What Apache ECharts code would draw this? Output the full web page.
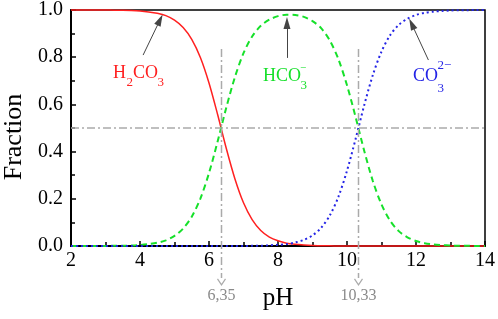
<!DOCTYPE html>
<html>
<head>
<meta charset="utf-8">
<script src="https://cdn.jsdelivr.net/npm/echarts@6/dist/echarts.min.js"></script>
<style>
  html, body { margin: 0; padding: 0; background: #fff; }
  #chart { width: 498px; height: 319px; }
</style>
</head>
<body>
<div id="chart"></div>
<script>
// pH values (x)
var phValues = [2, 2.25, 2.5, 2.75, 3, 3.25, 3.5, 3.75, 4, 4.25, 4.5, 4.75, 5, 5.25, 5.5, 5.75,
  6, 6.25, 6.5, 6.75, 7, 7.25, 7.5, 7.75, 8, 8.25, 8.5, 8.75, 9, 9.25, 9.5, 9.75,
  10, 10.25, 10.5, 10.75, 11, 11.25, 11.5, 11.75, 12, 12.25, 12.5, 12.75, 13, 13.25, 13.5, 13.75, 14];

// fractions
var h2co3 = [1.000, 1.000, 1.000, 1.000, 1.000, 0.999, 0.999, 0.998, 0.996, 0.992, 0.986, 0.976, 0.957, 0.926, 0.876, 0.799,
  0.691, 0.557, 0.414, 0.285, 0.183, 0.112, 0.066, 0.038, 0.022, 0.012, 0.007, 0.004, 0.002, 0.001, 0.001, 0.000,
  0, 0, 0, 0, 0, 0, 0, 0, 0, 0, 0, 0, 0, 0, 0, 0, 0];
var hco3 = [0.000, 0.000, 0.000, 0.000, 0.000, 0.001, 0.001, 0.002, 0.004, 0.008, 0.014, 0.024, 0.043, 0.074, 0.124, 0.201,
  0.309, 0.443, 0.586, 0.715, 0.817, 0.888, 0.933, 0.959, 0.974, 0.980, 0.979, 0.971, 0.953, 0.923, 0.871, 0.792,
  0.681, 0.546, 0.403, 0.275, 0.176, 0.107, 0.063, 0.037, 0.021, 0.012, 0.007, 0.004, 0.002, 0.001, 0.001, 0.000, 0.000];
var co3 = [0, 0, 0, 0, 0, 0, 0, 0, 0, 0, 0, 0, 0, 0, 0, 0,
  0, 0, 0, 0, 0, 0.001, 0.001, 0.003, 0.005, 0.008, 0.015, 0.026, 0.045, 0.077, 0.129, 0.208,
  0.319, 0.454, 0.597, 0.725, 0.824, 0.893, 0.937, 0.963, 0.979, 0.988, 0.993, 0.996, 0.998, 0.999, 0.999, 1.000, 1.000];

// pKa markers and their labels
var pkaValues = [6.35, 10.33];
var pkaLabels = ['6,35', '10,33'];
var pkaTop = 0.835;      // where the dash-dot marker starts
var pkaBottom = -0.165;  // tip of the marker below the axis

// annotation arrows [x0, y0, x1, y1] (start -> tip)
var arrowH2co3 = [4.09, 0.809, 4.58, 0.958];
var arrowHco3 = [8.26, 0.797, 8.26, 0.945];
var arrowCo3 = [12.36, 0.788, 11.875, 0.941];

var serif = '"Liberation Serif", "DejaVu Serif", serif';

function pairs(ys) {
  return phValues.map(function (x, i) { return [x, ys[i]]; });
}

var grayDash = [8, 3, 2, 3];

function arrowLine(a) {
  return [
    { coord: [a[0], a[1]], symbol: 'none' },
    { coord: [a[2], a[3]], symbol: 'triangle', symbolSize: [7, 12] }
  ];
}

var chart = echarts.init(document.getElementById('chart'));

function txt(x, y, s, size, color) {
  return {
    type: 'text', x: x, y: y, silent: true,
    style: { text: s, fill: color, font: size + 'px ' + serif, align: 'left', verticalAlign: 'middle' }
  };
}

var red = '#ff2020', green = '#16e02a', blue = '#2424e6';

var labels = [
  {
    type: 'text', x: 14, y: 137, rotation: Math.PI / 2, silent: true,
    style: { text: 'Fraction', fill: '#000', font: '26px ' + serif, align: 'center', verticalAlign: 'middle' }
  },
  txt(113, 73, 'H', 18, red),
  txt(126.5, 82.5, '2', 13, red),
  txt(133, 73, 'CO', 18, red),
  txt(157.5, 82.5, '3', 13, red),
  txt(263, 76, 'HCO', 18, green),
  txt(300.5, 85.5, '3', 13, green),
  txt(300, 68, '\u2212', 11, green),
  txt(413, 76, 'CO', 18, blue),
  txt(437.5, 88.5, '3', 13, blue),
  txt(437.5, 66, '2\u2212', 13, blue)
];

var option = {
  animation: false,
  grid: { left: 71, right: 13, top: 10, bottom: 73, show: true, borderColor: '#000', borderWidth: 1.5 },
  xAxis: {
    type: 'value', min: 2, max: 14, interval: 2,
    name: 'pH', nameLocation: 'middle', nameGap: 40,
    nameTextStyle: { fontSize: 25, fontFamily: serif, color: '#000' },
    axisLine: { lineStyle: { color: '#000', width: 2 } },
    axisTick: { inside: true, length: 5, lineStyle: { color: '#000', width: 1.5 } },
    minorTick: { show: true, splitNumber: 2, length: 4, lineStyle: { color: '#000', width: 1.5 } },
    axisLabel: { fontSize: 20, fontFamily: serif, color: '#000', margin: 5 },
    splitLine: { show: false }
  },
  yAxis: {
    type: 'value', min: 0, max: 1, interval: 0.2,
    axisLine: { show: true, lineStyle: { color: '#000', width: 2 } },
    axisTick: { show: true, inside: true, length: 5, lineStyle: { color: '#000', width: 1.5 } },
    minorTick: { show: true, splitNumber: 2, length: 4, lineStyle: { color: '#000', width: 1.5 } },
    axisLabel: { fontSize: 20, fontFamily: serif, color: '#000', margin: 8,
      formatter: function (v) { return v.toFixed(1); } },
    splitLine: { show: false }
  },
  graphic: labels,
  series: [
    {
      type: 'line', data: pairs(h2co3), showSymbol: false, smooth: 0.3, clip: false,
      lineStyle: { color: red, width: 1.5 },
      markLine: {
        silent: true, animation: false, symbol: 'none',
        lineStyle: { color: '#aaaaaa', width: 1.5, type: grayDash }, label: { show: false },
        data: [[{ coord: [2, 0.5] }, { coord: [14, 0.5] }]]
      }
    },
    {
      type: 'line', data: pairs(hco3), showSymbol: false, smooth: 0.3, clip: false,
      lineStyle: { color: green, width: 2, type: [6, 4] }
    },
    {
      type: 'line', data: pairs(co3), showSymbol: false, smooth: 0.3, clip: false,
      lineStyle: { color: blue, width: 2, type: [2, 3] },
      markLine: {
        silent: true, animation: false,
        lineStyle: { color: '#444', width: 1, type: 'solid' },
        itemStyle: { color: '#111' },
        label: { show: false },
        data: [arrowLine(arrowH2co3), arrowLine(arrowHco3), arrowLine(arrowCo3)]
      }
    }
  ]
};

chart.setOption(option);

// pKa markers run past the x axis, so place them through the grid's own scale
var extra = [];
pkaValues.forEach(function (v, i) {
  var p0 = chart.convertToPixel({ gridIndex: 0 }, [v, pkaTop]);
  var p1 = chart.convertToPixel({ gridIndex: 0 }, [v, pkaBottom]);
  var x = Math.round(p0[0]) + 0.5;
  extra.push({
    type: 'line', silent: true, z: 5,
    shape: { x1: x, y1: p0[1], x2: x, y2: p1[1] - 7 },
    style: { stroke: '#aaaaaa', lineWidth: 1.5, lineDash: grayDash }
  });
  extra.push({
    type: 'polyline', silent: true, z: 5,
    shape: { points: [[x - 4, p1[1] - 6], [x, p1[1]], [x + 4, p1[1] - 6]] },
    style: { stroke: '#aaaaaa', lineWidth: 1.2, fill: null }
  });
  extra.push({
    type: 'text', x: x, y: p1[1] + 11, silent: true,
    style: { text: pkaLabels[i], fill: '#8a8a8a', font: '16px ' + serif, align: 'center', verticalAlign: 'middle' }
  });
});
chart.setOption({ graphic: labels.concat(extra) });
</script>
</body>
</html>
